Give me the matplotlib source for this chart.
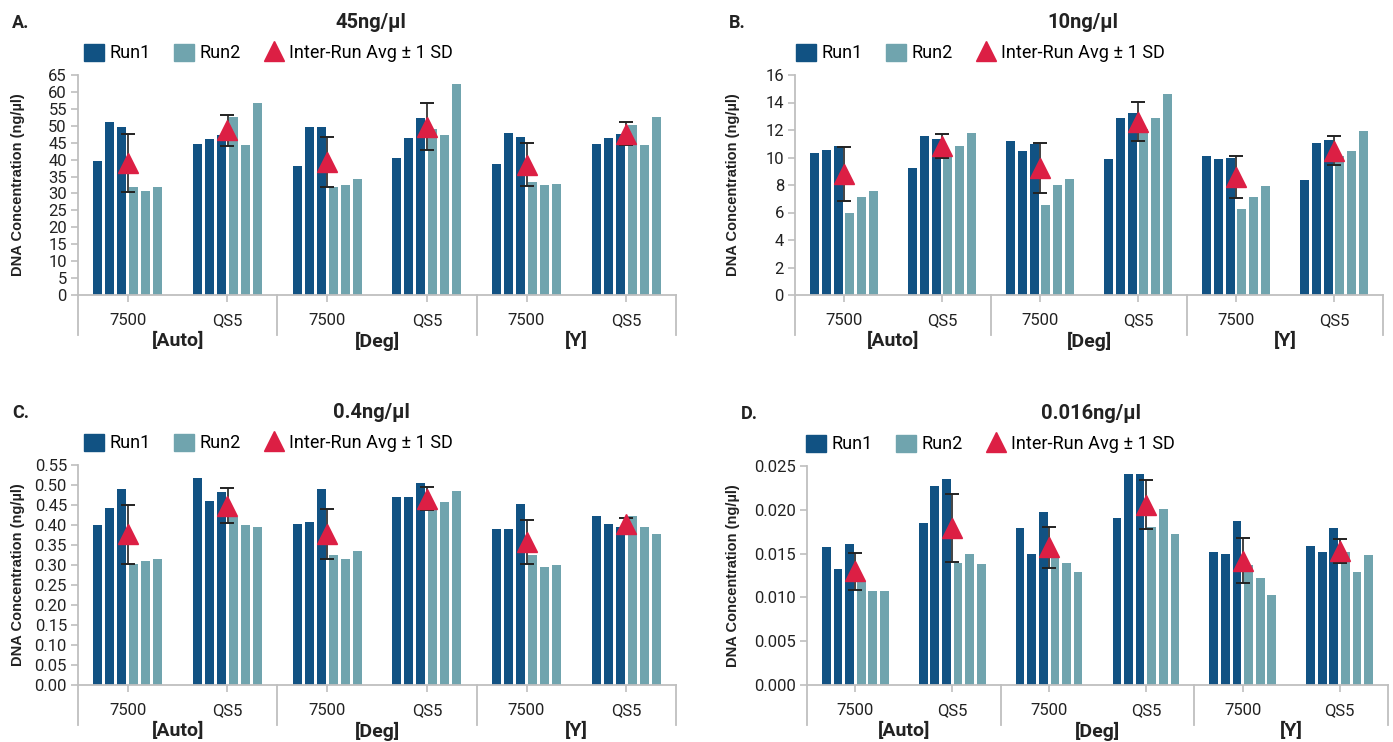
import numpy as np
import matplotlib.pyplot as plt
from matplotlib.patches import Patch
from matplotlib.lines import Line2D
from matplotlib.ticker import FormatStrFormatter

# category labels
cats = ['7500', 'QS5', '7500', 'QS5', '7500', 'QS5']
groups = ['[Auto]', '[Deg]', '[Y]']

# panel A: 45ng/ul  (3 replicates per run, 6 categories)
a_run1 = [[39.5, 51.0, 49.5], [44.6, 46.1, 47.4], [38.0, 49.5, 49.5],
          [40.6, 46.3, 52.2], [38.6, 48.0, 46.6], [44.5, 46.3, 47.7]]
a_run2 = [[32.0, 30.8, 32.0], [52.6, 44.2, 56.6], [32.0, 32.6, 34.3],
          [48.9, 47.2, 62.2], [33.5, 32.6, 32.9], [50.1, 44.2, 52.5]]
a_avg = [39.0, 48.7, 39.4, 49.7, 38.5, 47.7]
a_sd = [8.5, 4.6, 7.4, 7.0, 6.4, 3.4]

# panel B: 10ng/ul
b_run1 = [[10.34, 10.56, 10.85], [9.24, 11.59, 11.37], [11.22, 10.49, 11.0],
          [9.9, 12.9, 13.25], [10.1, 9.87, 9.95], [8.4, 11.03, 11.25]]
b_run2 = [[6.0, 7.1, 7.6], [10.2, 10.85, 11.8], [6.51, 7.98, 8.44],
          [12.05, 12.9, 14.6], [6.27, 7.14, 7.9], [10.1, 10.5, 11.9]]
b_avg = [8.78, 10.83, 9.22, 12.6, 8.58, 10.5]
b_sd = [1.95, 0.88, 1.83, 1.43, 1.53, 1.03]

# panel C: 0.4ng/ul
c_run1 = [[0.400, 0.442, 0.490], [0.518, 0.460, 0.483], [0.402, 0.407, 0.490],
          [0.471, 0.471, 0.505], [0.391, 0.389, 0.452], [0.422, 0.402, 0.395]]
c_run2 = [[0.302, 0.309, 0.316], [0.420, 0.401, 0.395], [0.324, 0.314, 0.334],
          [0.446, 0.458, 0.485], [0.324, 0.296, 0.301], [0.422, 0.395, 0.377]]
c_avg = [0.377, 0.448, 0.378, 0.466, 0.358, 0.402]
c_sd = [0.074, 0.044, 0.0625, 0.028, 0.055, 0.016]

# panel D: 0.016ng/ul
d_run1 = [[0.01575, 0.01324, 0.0161], [0.0185, 0.0227, 0.0235], [0.0179, 0.0149, 0.0197],
          [0.0191, 0.0241, 0.0241], [0.0152, 0.0150, 0.0187], [0.0159, 0.0152, 0.0179]]
d_run2 = [[0.0119, 0.0107, 0.0107], [0.0139, 0.0150, 0.0138], [0.0147, 0.0139, 0.0129],
          [0.0180, 0.0201, 0.0172], [0.0137, 0.0122, 0.0103], [0.0152, 0.0129, 0.0148]]
d_avg = [0.0130, 0.0179, 0.0157, 0.0206, 0.0142, 0.0153]
d_sd = [0.0021, 0.0039, 0.0023, 0.0028, 0.0026, 0.00135]

dark = '#115283'
light = '#70a4ae'
red = '#dc1f44'
gray = '#bfbfbf'

W, H = 1393, 742
fig = plt.figure(figsize=(W / 100, H / 100), dpi=100)
plt.rcParams['font.family'] = ['Roboto', 'DejaVu Sans']


def panel(box, run1, run2, avg, sd, top, step, fmt, letter, title, lx, legx):
    l, r, t, b = box
    ax = fig.add_axes([l / W, 1 - b / H, (r - l) / W, (b - t) / H])
    x = np.arange(6)
    offs = (np.arange(6) - 2.5) * 0.12
    for i in range(3):
        ax.bar(x + offs[i], [g[i] for g in run1], 0.09, color=dark, zorder=2)
        ax.bar(x + offs[i + 3], [g[i] for g in run2], 0.09, color=light, zorder=2)
    ax.errorbar(x, avg, yerr=sd, fmt='none', ecolor='#222222', elinewidth=1.2,
                capsize=5, capthick=1.4, zorder=3)
    ax.plot(x, avg, '^', ms=14, color=red, ls='none', zorder=4)

    ax.set_xlim(-0.5, 5.5)
    ax.set_ylim(0, top)
    ax.set_yticks(np.arange(0, top + step / 2, step))
    ax.yaxis.set_major_formatter(FormatStrFormatter(fmt))
    for s in ['top', 'right']:
        ax.spines[s].set_visible(False)
    for s in ['left', 'bottom']:
        ax.spines[s].set_color(gray)
        ax.spines[s].set_linewidth(1.3)
    ax.set_xticks(x)
    ax.set_xticklabels(cats)
    ax.tick_params(axis='both', colors=gray, labelcolor='#222222', labelsize=12,
                   length=5, width=1.2)
    ax.tick_params(axis='x', pad=8)
    ax.tick_params(axis='y', pad=3)

    h = b - t
    tr = ax.get_xaxis_transform()
    for sep in [-0.5, 1.5, 3.5, 5.5]:
        ax.plot([sep, sep], [0, -40 / h], transform=tr, color=gray, lw=1.3, clip_on=False)
    for k, g in enumerate(groups):
        ax.text(2 * k + 0.5, -46 / h, g, transform=tr, ha='center', va='center',
                fontsize=14, fontweight='bold', color='#222222')

    fig.text(lx / W, 1 - (t + b) / 2 / H, 'DNA Concentration (ng/\u00b5l)', rotation=90,
             ha='center', va='center', fontsize=10.5, fontweight='bold',
             family='Liberation Sans', color='#222222')
    fig.text((l - 66) / W, 1 - (t - 52) / H, letter, ha='left', va='center',
             fontsize=13, fontweight='bold', color='#222222')
    fig.text(((l + r) / 2 - 6) / W, 1 - (t - 52) / H, title, ha='center', va='center',
             fontsize=14.5, fontweight='bold', color='#222222')

    handles = [Patch(color=dark), Patch(color=light),
               Line2D([], [], marker='^', ls='none', ms=14, color=red)]
    fig.legend(handles, ['Run1', 'Run2', 'Inter-Run Avg \u00b1 1 SD'],
               loc='center left', bbox_to_anchor=(legx / W, 1 - (t - 22) / H),
               ncol=3, frameon=False, fontsize=13, handlelength=1.1, handleheight=1.1,
               handletextpad=0.3, columnspacing=1.3, borderpad=0, borderaxespad=0)
    return ax


panel((78, 676, 75, 295), a_run1, a_run2, a_avg, a_sd, 65, 5, '%d', 'A.', '45ng/\u00b5l', 18, 84)
panel((795, 1383, 75, 295), b_run1, b_run2, b_avg, b_sd, 16, 2, '%d', 'B.', '10ng/\u00b5l', 733, 796)
panel((78, 676, 465, 685), c_run1, c_run2, c_avg, c_sd, 0.55, 0.05, '%.2f', 'C.', '0.4ng/\u00b5l', 18, 84)
panel((807, 1388, 466, 685), d_run1, d_run2, d_avg, d_sd, 0.025, 0.005, '%.3f', 'D.', '0.016ng/\u00b5l', 733, 806)

fig.savefig('out.png', dpi=100)
